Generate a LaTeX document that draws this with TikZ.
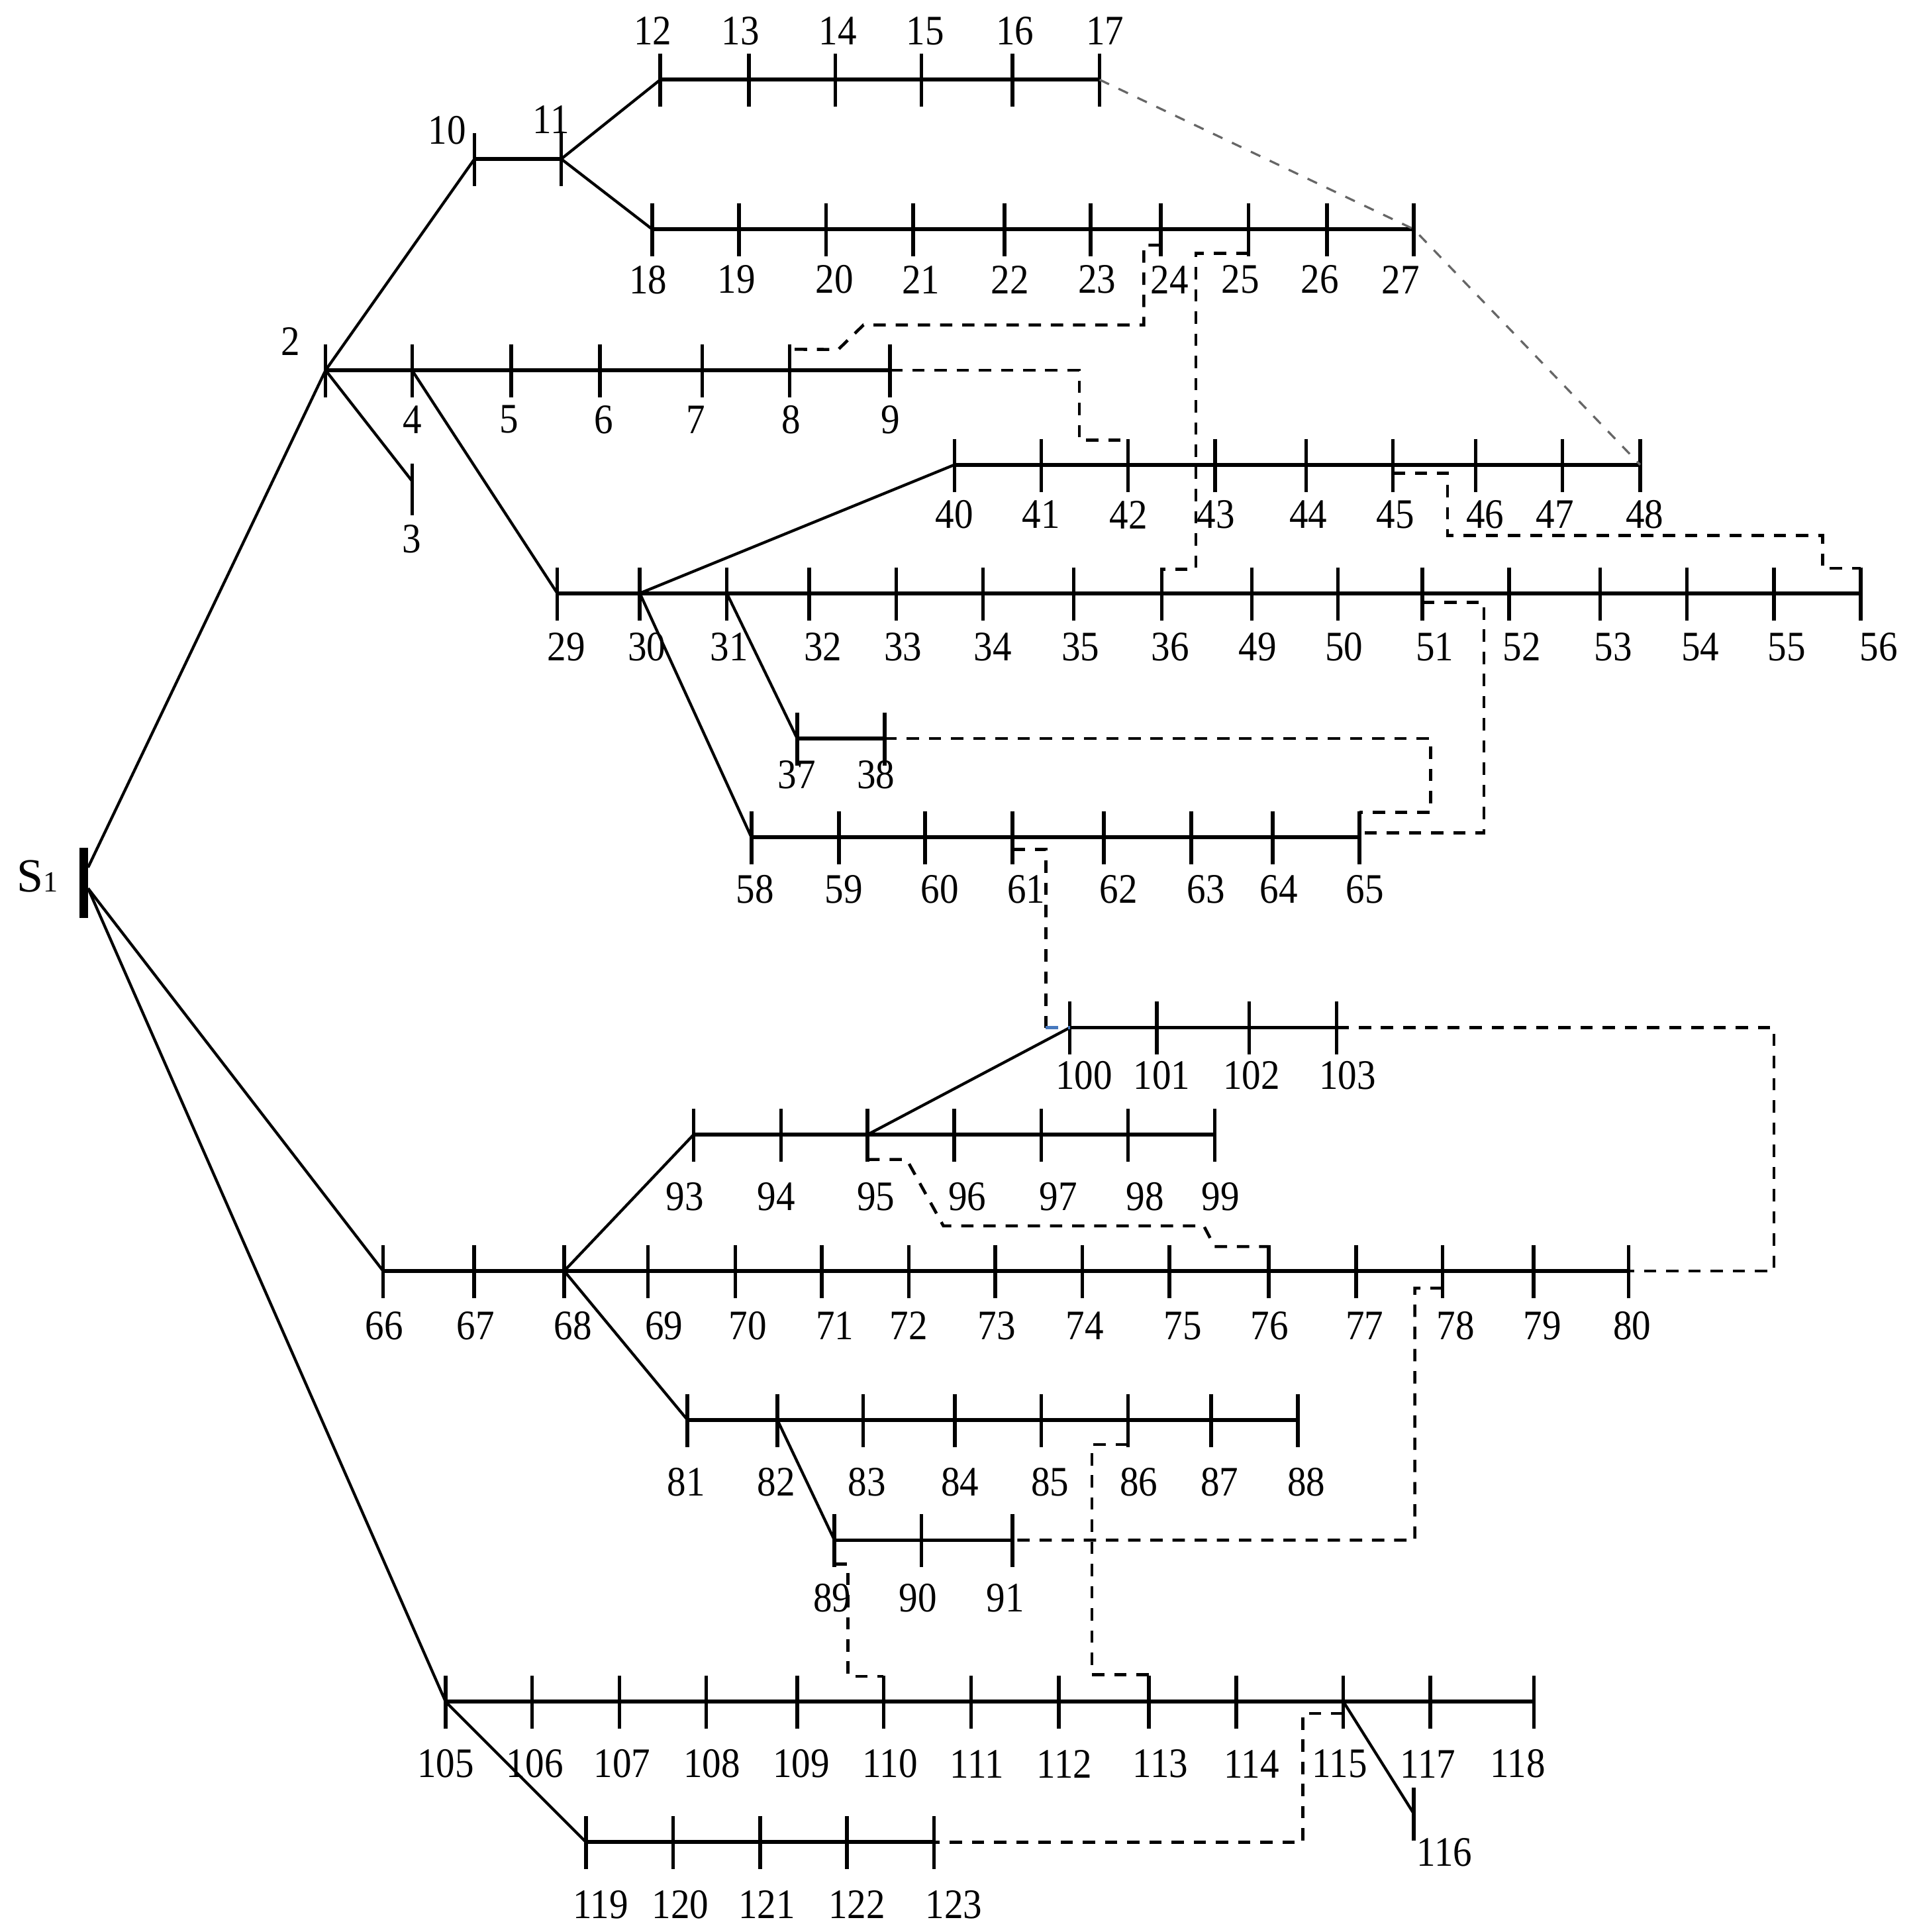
\documentclass[tikz,border=0pt]{standalone}
\usepackage{fontspec}
\setmainfont{Liberation Serif}
\usetikzlibrary{calc}
\definecolor{tieblue}{RGB}{70,120,190}
\newcommand\lbl[1]{\scalebox{0.9}[1.0]{#1}}
\begin{document}
\begin{tikzpicture}[x=0.02cm,y=-0.02cm,
  bus/.style={line width=1.8pt},
  feeder/.style={line width=1.3pt},
  tk/.style={line width=1.7pt},
  tie/.style={line width=1.4pt,dash pattern=on 0.2cm off 0.16cm},
  tiegray/.style={line width=1pt,black!60,dash pattern=on 0.17cm off 0.17cm},
  lab/.style={font=\fontsize{19.4}{20}\selectfont,inner sep=0pt}]
\useasboundingbox (0,0) rectangle (1556,1568);
% ---------- bus points ----------
\foreach \n/\x/\y in {
 2/264.3/300.5, 3/334.5/390.4, 4/334.5/300.5, 5/415/300.5, 6/487/300.5, 7/570/300.5, 8/641/300.5, 9/722.5/300.5,
 10/385.2/129, 11/455.6/129,
 12/536/64.7, 13/608/64.7, 14/678/64.7, 15/748/64.7, 16/822/64.7, 17/892.6/64.7,
 18/529.4/186, 19/600/186, 20/670.5/186, 21/741.4/186, 22/815.5/186, 23/885.4/186, 24/942.3/186, 25/1013.4/186, 26/1077.3/186, 27/1147.6/186,
 29/452.4/481.5, 30/519.4/481.5, 31/590/481.5, 32/657/481.5, 33/727.5/481.5, 34/798/481.5, 35/871.5/481.5, 36/943.2/481.5,
 49/1016.3/481.5, 50/1086/481.5, 51/1154.5/481.5, 52/1225/481.5, 53/1299/481.5, 54/1369.4/481.5, 55/1440/481.5, 56/1510.6/481.5,
 40/774.8/377.2, 41/845.2/377.2, 42/915.6/377.2, 43/986.3/377.2, 44/1060.3/377.2, 45/1130.6/377.2, 46/1198/377.2, 47/1268.4/377.2, 48/1331.4/377.2,
 37/647.1/599.3, 38/718/599.3,
 58/610/679.6, 59/681/679.6, 60/751/679.6, 61/822/679.6, 62/896/679.6, 63/967/679.6, 64/1033/679.6, 65/1103.5/679.6,
 100/868.5/834, 101/939/834, 102/1014/834, 103/1085/834,
 93/563/920.9, 94/634/920.9, 95/704.1/920.9, 96/774.7/920.9, 97/845.2/920.9, 98/915.6/920.9, 99/986/920.9,
 66/311/1031.5, 67/385/1031.5, 68/458/1031.5, 69/526/1031.5, 70/597/1031.5, 71/667.2/1031.5, 72/737.7/1031.5, 73/808/1031.5,
 74/878.5/1031.5, 75/949.4/1031.5, 76/1030/1031.5, 77/1100.8/1031.5, 78/1171.1/1031.5, 79/1245/1031.5, 80/1322/1031.5,
 81/558/1152.3, 82/631/1152.3, 83/700.6/1152.3, 84/775.1/1152.3, 85/845.3/1152.3, 86/915.6/1152.3, 87/983/1152.3, 88/1053.7/1152.3,
 89/677.4/1250, 90/748/1250, 91/821.8/1250,
 105/361.7/1381, 106/432/1381, 107/502.9/1381, 108/573.3/1381, 109/647.1/1381, 110/717.3/1381, 111/788.4/1381, 112/859.4/1381,
 113/932.5/1381, 114/1003.5/1381, 115/1090.5/1381, 117/1161.2/1381, 118/1245.2/1381,
 116/1147.7/1472,
 119/475.8/1495.1, 120/546.5/1495.1, 121/617.2/1495.1, 122/687.5/1495.1, 123/758.1/1495.1}
  \coordinate (n\n) at (\x,\y);
\coordinate (s1a) at (71.5,704);
\coordinate (s1b) at (71.5,721);
% ---------- source bar ----------
\draw[line width=3.9pt] (67.9,688) -- (67.9,745);
\node[anchor=base west,inner sep=0pt] (s1lab) at (13.5,724)
  {\fontsize{22}{22}\selectfont S\fontsize{13.5}{13.5}\selectfont 1};
% ---------- buses ----------
\foreach \a/\b in {2/9,10/11,12/17,18/27,40/48,29/56,37/38,58/65,100/103,93/99,66/80,81/88,89/91,105/118,119/123}
  \draw[bus] (n\a) -- (n\b);
% ---------- feeders ----------
\draw[feeder] (s1a) -- (n2);
\draw[feeder] (s1b) -- (n66);
\draw[feeder] (s1b) -- (n105);
\foreach \a/\b in {2/10,2/3,11/12,11/18,4/29,30/40,31/37,30/58,68/93,95/100,68/81,82/89,105/119,115/116}
  \draw[feeder] (n\a) -- (n\b);
% ---------- ticks ----------
\foreach \n in {2,4,5,6,7,8,9,10,11,12,13,14,15,16,17,18,19,20,21,22,23,24,25,26,27,
  29,30,31,32,33,34,35,36,49,50,51,52,53,54,55,56,40,41,42,43,44,45,46,47,48,37,38,
  58,59,60,61,62,63,64,65,100,101,102,103,93,94,95,96,97,98,99,
  66,67,68,69,70,71,72,73,74,75,76,77,78,79,80,81,82,83,84,85,86,87,88,89,90,91,
  105,106,107,108,109,110,111,112,113,114,115,117,118,116,119,120,121,122,123}
  \draw[tk] ($(n\n)+(0,-21)$) -- ($(n\n)+(0,22)$);
\draw[tk] ($(n3)+(0,-14)$) -- ($(n3)+(0,28)$);
% ---------- tie lines ----------
\draw[tiegray] (n17) -- (n27) -- (n48);
\draw[tie] ($(n24)+(0,13)$) -- (928.5,199) |- (701,263.7) -- (680.5,283.6) -- ($(n8)+(0,-17)$);
\draw[tie] ($(n25)+(0,19.5)$) -- (970.7,205.5) |- ($(n36)+(0,-19.5)$);
\draw[tie] (n9) -| (876.1,357.2) -- ($(n42)+(0,-20)$);
\draw[tie] ($(n45)+(0,6.8)$) -| (1175,434.6) -| (1479.4,461.2) -- ($(n56)+(0,-20.3)$);
\draw[tie] ($(n51)+(0,7.5)$) -| (1204.6,676) -- ($(n65)+(0,-3.6)$);
\draw[tie] (n38) -| (1161.2,659.2) -- ($(n65)+(0,-20.4)$);
\draw[tie] ($(n61)+(0,9.8)$) -| (849,834);
\draw[tie,tieblue] (849,834) -- (n100);
\draw[tie] (n103) -- (1440,834) |- (n80);
\draw[tie] ($(n95)+(0,20.1)$) -- (736,941) -- (765.8,994.9) -- (977.2,994.9) -- (986,1011.7) -- ($(n76)+(0,-19.8)$);
\draw[tie] ($(n78)+(0,13.9)$) -- (1148.5,1045.4) |- (n91);
\draw[tie] ($(n86)+(0,20.1)$) -- (886.5,1172.4) |- ($(n113)+(0,-21.8)$);
\draw[tie] ($(n89)+(0,19.3)$) -- (688.3,1269.3) |- ($(n110)+(0,-20.6)$);
\draw[tie] ($(n115)+(0,9.7)$) -- (1057.6,1390.7) |- (n123);
% ---------- labels ----------
\foreach \n/\x/\y in {
 2/236/277, 3/334/437.7, 4/334.5/340.5, 5/413/340.5, 6/490/340.5, 7/565/340.5, 8/642/340.5, 9/723/340.5,
 10/363/106, 11/447.4/97.3,
 12/530/25, 13/601/25, 14/680/25, 15/751/25, 16/824/25, 17/897/25,
 18/526/227, 19/598/227, 20/677.4/226.5, 21/747.5/227, 22/820/227, 23/890.5/227, 24/949.5/227, 25/1007/227, 26/1071.3/227, 27/1137/227,
 29/459.6/525, 30/525/525, 31/592/525, 32/668/525, 33/733/525, 34/806/525, 35/877/525, 36/950/525,
 49/1021/525, 50/1091/525, 51/1164.7/525, 52/1235.5/525, 53/1309.5/525, 54/1380.3/525, 55/1450.3/525, 56/1525/525,
 40/774.8/417.7, 41/845/417.7, 42/916/417.7, 43/987/417.7, 44/1062/417.7, 45/1132.7/417.7, 46/1205.5/417.7, 47/1262.3/417.7, 48/1335.2/417.7,
 37/646.8/629, 38/711/629,
 58/613/722, 59/685/722, 60/763/722, 61/833/722, 62/908/722, 63/979/722, 64/1038/722, 65/1108/722,
 100/880/873, 101/943/873, 102/1016/873, 103/1094/873,
 93/556/971, 94/630/971, 95/711/971, 96/785.3/971, 97/859/971, 98/929.5/971, 99/990.8/971,
 66/312/1076, 67/386/1076, 68/465/1076, 69/539/1076, 70/607/1076, 71/677.8/1076, 72/737.5/1076, 73/809.2/1076,
 74/880.5/1076, 75/960.3/1076, 76/1030.5/1076, 77/1107.8/1076, 78/1181.5/1076, 79/1252/1076, 80/1325/1076,
 81/557/1203, 82/630/1203, 83/703.8/1203, 84/779.2/1203, 85/852.4/1203, 86/924.4/1203, 87/990/1203, 88/1060.4/1203,
 89/675.6/1297, 90/745.2/1297, 91/816.2/1297,
 105/361.7/1431.5, 106/434.2/1431.5, 107/505.1/1431.5, 108/577.9/1431.5, 109/650.4/1431.5, 110/722.6/1431.5, 111/793/1431.5,
 112/864/1431.5, 113/942/1431.5, 114/1016/1431.5, 115/1087.5/1431.5, 117/1159.2/1431.5, 118/1232.1/1431.5,
 116/1172.6/1503.2,
 119/487.5/1545.6, 120/552.3/1545.6, 121/622.4/1545.6, 122/695.7/1545.6, 123/774.4/1545.6}
  \node[lab] (l\n) at (\x,\y) {\lbl{\n}};
\end{tikzpicture}
\end{document}
